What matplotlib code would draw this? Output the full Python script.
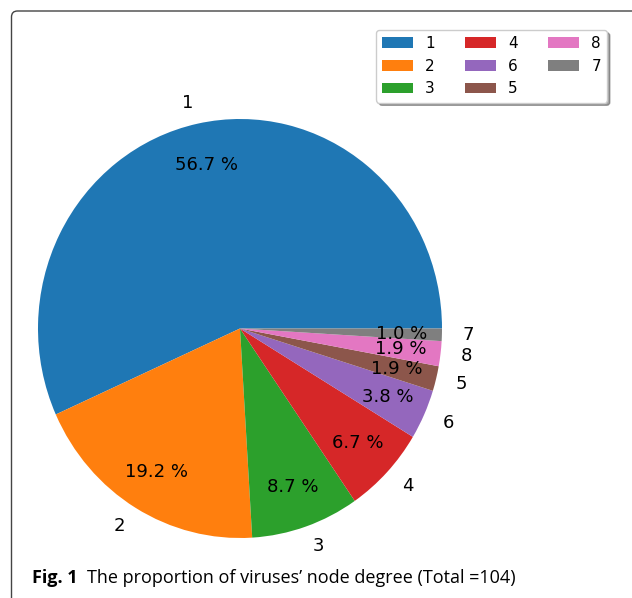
import matplotlib
matplotlib.use("Agg")
import matplotlib.pyplot as plt
from matplotlib.patches import FancyBboxPatch

plt.rcParams["font.family"] = ["DejaVu Sans"]

# node degree -> number of viruses (total 104)
degrees = ["1", "2", "3", "4", "6", "5", "8", "7"]
counts = [59, 20, 9, 7, 4, 2, 2, 1]
colors = ["#1f77b4", "#ff7f0e", "#2ca02c", "#d62728",
          "#9467bd", "#8c564b", "#e377c2", "#7f7f7f"]

W, H = 632, 598
fig = plt.figure(figsize=(W / 100, H / 100), dpi=100)

# journal frame around the figure
frame = FancyBboxPatch((0.115, -0.5), 7.0, 5.87 + 0.5,
                       boxstyle="round,pad=0,rounding_size=0.06",
                       transform=fig.dpi_scale_trans, fill=False,
                       edgecolor="#444444", linewidth=1.0)
fig.patches.append(frame)

# pie is slightly stretched vertically in the reference
cx, cy, rx, ry = 240, 328.5, 202, 209.5
ax = fig.add_axes([(cx - rx) / W, (H - cy - ry) / H, 2 * rx / W, 2 * ry / H])
wedges, texts, autotexts = ax.pie(counts, labels=degrees, colors=colors,
                                  autopct="%.1f %%", pctdistance=0.8,
                                  labeldistance=1.1,
                                  textprops={"fontsize": 13})
ax.set_aspect("auto")
ax.set_xlim(-1, 1)
ax.set_ylim(-1, 1)
ax.axis("off")

fig.legend(wedges, degrees, ncol=3, loc="upper right",
           bbox_to_anchor=(607 / W, 1 - 30 / H), fontsize=11,
           shadow=True, handlelength=2.0, columnspacing=2.0,
           borderaxespad=0)

fig.text(32 / W, 1 - 578 / H, "Fig. 1", fontsize=13, fontweight="bold",
         family="Open Sans", va="center", ha="left")
fig.text(87 / W, 1 - 578 / H, "The proportion of viruses\u2019 node degree (Total =104)",
         fontsize=13, family="Open Sans", va="center", ha="left")

fig.savefig("out.png", dpi=100)
